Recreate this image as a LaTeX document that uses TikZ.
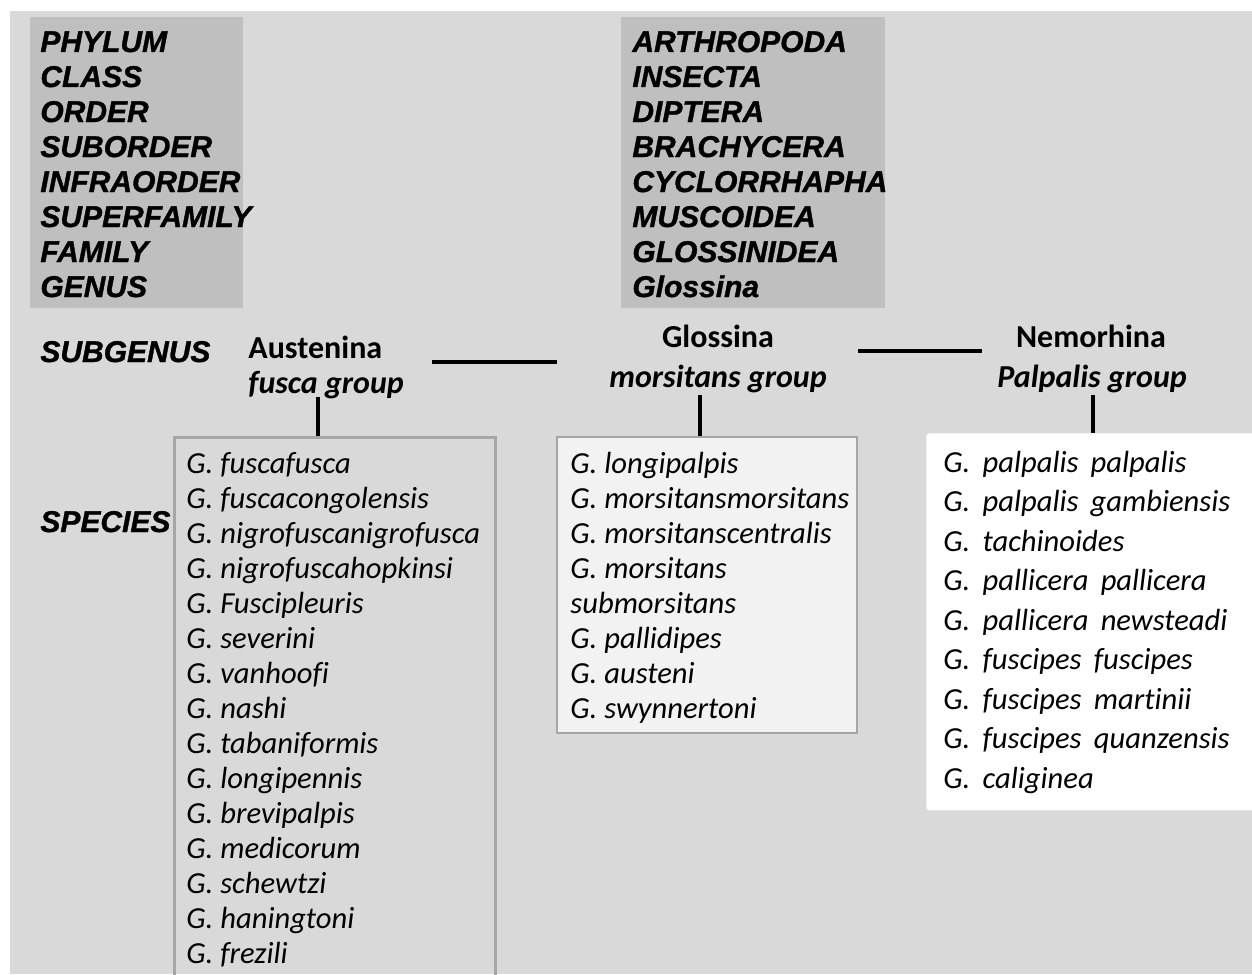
\documentclass[tikz,border=0pt]{standalone}
\usepackage{fontspec}
\setmainfont{Carlito}[Ligatures=CommonOff]
\newfontfamily\rankfont{Liberation Sans}[BoldItalicFeatures={FakeBold=1.2}]
\definecolor{bggray}{HTML}{D9D9D9}
\definecolor{rankgray}{HTML}{BFBFBF}
\definecolor{edgegray}{HTML}{A6A6A6}
\definecolor{boxgray}{HTML}{F2F2F2}
\begin{document}
\begin{tikzpicture}[x=0.5pt,y=-0.5pt,
  rank/.style={anchor=base west,inner sep=0,font=\rankfont\bfseries\itshape\fontsize{15}{18}\selectfont},
  species/.style={anchor=base west,inner sep=0,font=\itshape\fontsize{15.3}{18}\selectfont},
  subgen/.style={anchor=base,inner sep=0,font=\bfseries\fontsize{16}{19}\selectfont},
  panel/.style={anchor=north west,inner sep=0,fill=rankgray,minimum height=145.5pt},
  spbox/.style={anchor=north west,inner sep=0},
  link/.style={line width=2.4pt}]
  \useasboundingbox (0,0) rectangle (1252,974);
  \fill[bggray] (10,11) rectangle (1252,974);

  % ranks and the names of tsetse
  \node[panel,minimum width=106.5pt] (rankbox) at (30,17) {};
  \node[panel,minimum width=132pt] (taxbox) at (621,17) {};
  \foreach \r [count=\i] in {PHYLUM,CLASS,ORDER,SUBORDER,INFRAORDER,SUPERFAMILY,FAMILY,GENUS}
    \node[rank] (rk\i) at (40,{52+35*(\i-1)}) {\r};
  \foreach \r [count=\i] in {ARTHROPODA,INSECTA,DIPTERA,BRACHYCERA,CYCLORRHAPHA,MUSCOIDEA,GLOSSINIDEA,Glossina}
    \node[rank] (tx\i) at (632,{52+35*(\i-1)}) {\r};
  \node[rank] (subgenus) at (40,362) {SUBGENUS};
  \node[rank] (species) at (40,532) {SPECIES};

  % subgenera
  \node[subgen,anchor=base west] (austenina) at (248,358) {Austenina};
  \node[subgen,anchor=base west] (fuscagrp) at (248,393) {\itshape fusca group};
  \node[subgen] (glossina) at (718,347) {Glossina};
  \node[subgen] (morsgrp) at (718,387) {\itshape morsitans group};
  \node[subgen] (nemorhina) at (1091,347) {Nemorhina};
  \node[subgen] (palpgrp) at (1092,387) {\itshape Palpalis group};

  % species boxes
  \node[spbox,draw=edgegray,line width=1.5pt,minimum width=160.5pt,minimum height=280pt] (fuscabox) at (172.5,436) {};
  \node[spbox,fill=boxgray,draw=edgegray,line width=1pt,minimum width=150pt,minimum height=148pt] (morsbox) at (556,435.5) {};
  \node[spbox,fill=white,rounded corners=1.5pt,minimum width=170pt,minimum height=188.5pt] (palpbox) at (926,433) {};

  \foreach \s [count=\i] in {G. fuscafusca,G. fuscacongolensis,G. nigrofuscanigrofusca,G. nigrofuscahopkinsi,G. Fuscipleuris,G. severini,G. vanhoofi,G. nashi,G. tabaniformis,G. longipennis,G. brevipalpis,G. medicorum,G. schewtzi,G. haningtoni,G. frezili}
    \node[species] (fsp\i) at (186,{473+35*(\i-1)}) {\s};
  \foreach \s [count=\i] in {G. longipalpis,G. morsitansmorsitans,G. morsitanscentralis,G. morsitans,submorsitans,G. pallidipes,G. austeni,G. swynnertoni}
    \node[species] (msp\i) at (570,{473+35*(\i-1)}) {\s};
  \foreach \s [count=\i] in {G. palpalis palpalis,G. palpalis gambiensis,G. tachinoides,G. pallicera pallicera,G. pallicera newsteadi,G. fuscipes fuscipes,G. fuscipes martinii,G. fuscipes quanzensis,G. caliginea}
    \node[species] (psp\i) at (943,{472+39.5*(\i-1)}) {\spaceskip=0.4em\relax\s};

  % connectors
  \coordinate (h1a) at (432,362);
  \coordinate (h1b) at (557,362);
  \coordinate (h2a) at (858,351);
  \coordinate (h2b) at (982,351);
  \draw[link] (h1a) -- (h1b);
  \draw[link] (h2a) -- (h2b);
  \coordinate (t1) at (318,397);
  \coordinate (t2) at (700,395);
  \coordinate (t3) at (1093,395);
  \draw[link] (t1) -- (t1 |- fuscabox.north);
  \draw[link] (t2) -- (t2 |- morsbox.north);
  \draw[link] (t3) -- (t3 |- palpbox.north);
\end{tikzpicture}
\end{document}
